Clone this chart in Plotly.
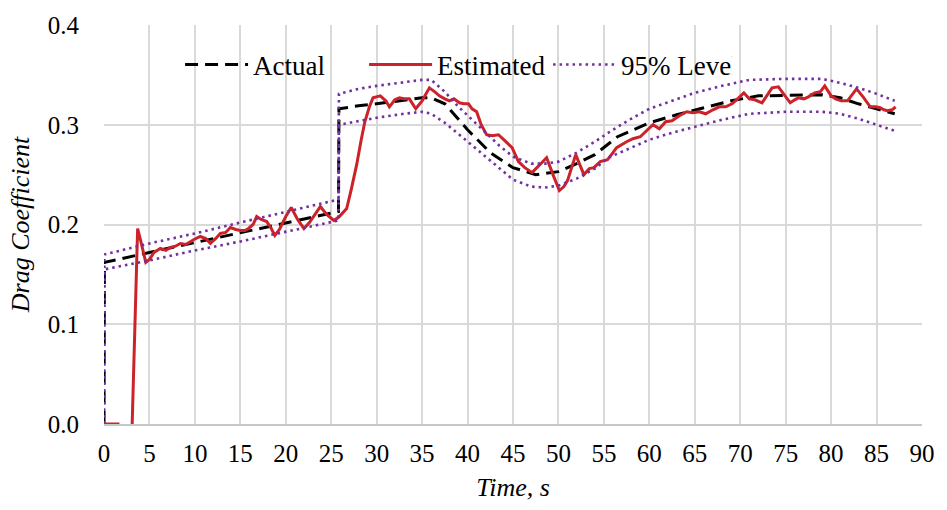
import plotly.graph_objects as go

# ---- data ----
t_actual = [0, 0.05, 5, 10, 15, 20, 25.8, 25.85, 28, 30, 33, 35, 36, 37.5, 40, 42.5,
            45, 47.5, 50, 52, 54, 56.5, 60, 63, 66, 69, 72, 76, 79, 81, 83, 85, 87]
cd_actual = [0, 0.162, 0.172, 0.182, 0.192, 0.202, 0.213, 0.316, 0.319, 0.321, 0.325,
             0.327, 0.327, 0.321, 0.295, 0.272, 0.257, 0.250, 0.253, 0.261, 0.270,
             0.288, 0.302, 0.310, 0.317, 0.324, 0.329, 0.330, 0.330, 0.327, 0.321,
             0.316, 0.311]

t_upper = [0, 0.05, 5, 10, 15, 20, 25.8, 25.85, 28, 30, 33, 35, 36, 37.5, 39, 40.5, 42,
           43.5, 45, 47, 48.5, 50, 52, 54, 56, 58, 60, 62.5, 65, 68, 71, 75, 79, 81,
           83, 85, 87]
cd_upper = [0, 0.170, 0.181, 0.191, 0.202, 0.213, 0.225, 0.331, 0.336, 0.339, 0.343,
            0.345, 0.345, 0.333, 0.318, 0.305, 0.291, 0.279, 0.268, 0.261, 0.261,
            0.263, 0.272, 0.283, 0.295, 0.306, 0.316, 0.324, 0.332, 0.339, 0.345,
            0.346, 0.346, 0.342, 0.337, 0.331, 0.324]

t_lower = [0, 0.05, 5, 10, 15, 20, 25.8, 25.85, 28, 30, 33, 35, 36, 37.5, 39.5, 41.5,
           43.5, 45, 47, 48.5, 50, 52, 54, 55.5, 58, 60, 62.5, 65, 68, 71, 75, 79, 81,
           83, 85, 87]
cd_lower = [0, 0.155, 0.164, 0.174, 0.183, 0.193, 0.204, 0.300, 0.304, 0.307, 0.311,
            0.313, 0.311, 0.302, 0.287, 0.272, 0.257, 0.245, 0.238, 0.237, 0.239,
            0.246, 0.256, 0.267, 0.277, 0.285, 0.292, 0.298, 0.305, 0.311, 0.313,
            0.313, 0.311, 0.306, 0.300, 0.294]

t_est = [0, 1.7, None, 3.1, 3.7, 4.0, 4.6, 5.0, 5.5, 6.2, 6.8, 7.3, 7.8, 8.4, 9.0, 9.9,
         10.6, 11.2, 11.7, 12.3, 12.8, 13.4, 13.9, 14.5, 15.0, 15.5, 15.9, 16.4, 16.8,
         17.3, 17.9, 18.4, 18.8, 19.3, 20.0, 20.6, 21.3, 22.0, 22.6, 23.2, 23.8, 24.5,
         25.3, 25.9, 26.7, 27.2, 27.8, 28.3, 28.7, 29.2, 29.6, 30.4, 31.0, 31.4, 32.0,
         32.5, 33.0, 33.6, 34.3, 35.0, 35.8, 36.4, 36.9, 37.5, 38.0, 38.5, 39.1, 39.6,
         40.1, 40.5, 41.0, 41.5, 42.1, 42.7, 43.4, 44.1, 44.9, 45.6, 46.3, 47.1, 47.8,
         48.7, 49.4, 50.1, 50.6, 51.0, 51.9, 52.4, 52.8, 53.4, 53.9, 54.6, 55.4, 56.0,
         56.4, 57.5, 58.2, 59.0, 59.6, 60.4, 61.1, 61.8, 62.5, 63.3, 64.1, 64.8, 65.5,
         66.2, 67.0, 67.7, 68.4, 69.1, 69.6, 70.4, 71.0, 71.6, 72.4, 73.0, 73.5, 74.2,
         74.8, 75.5, 76.0, 76.4, 77.0, 77.5, 78.2, 78.8, 79.3, 80.0, 80.5, 81.1, 81.8,
         82.3, 82.8, 83.6, 84.3, 84.9, 85.4, 85.8, 86.2, 86.7, 87.1]
cd_est = [0, 0, None, 0, 0.196, 0.185, 0.162, 0.165, 0.172, 0.176, 0.174, 0.177, 0.178,
          0.181, 0.180, 0.185, 0.188, 0.186, 0.181, 0.186, 0.191, 0.192, 0.197, 0.195,
          0.194, 0.194, 0.196, 0.200, 0.208, 0.205, 0.203, 0.196, 0.189, 0.195, 0.208,
          0.217, 0.205, 0.196, 0.202, 0.210, 0.218, 0.210, 0.204, 0.208, 0.216, 0.235,
          0.260, 0.285, 0.303, 0.318, 0.327, 0.329, 0.324, 0.318, 0.325, 0.327, 0.326,
          0.326, 0.316, 0.324, 0.337, 0.333, 0.329, 0.326, 0.324, 0.326, 0.322, 0.321,
          0.321, 0.316, 0.313, 0.300, 0.290, 0.289, 0.290, 0.284, 0.277, 0.263, 0.257,
          0.252, 0.259, 0.267, 0.250, 0.234, 0.238, 0.244, 0.270, 0.258, 0.250, 0.256,
          0.257, 0.263, 0.265, 0.272, 0.277, 0.283, 0.286, 0.288, 0.293, 0.300, 0.296,
          0.303, 0.304, 0.309, 0.313, 0.312, 0.313, 0.311, 0.315, 0.318, 0.318, 0.321,
          0.325, 0.332, 0.326, 0.325, 0.322, 0.330, 0.337, 0.338, 0.331, 0.322, 0.325,
          0.327, 0.326, 0.328, 0.332, 0.333, 0.339, 0.329, 0.326, 0.324, 0.324, 0.330,
          0.336, 0.327, 0.318, 0.318, 0.317, 0.315, 0.314, 0.315, 0.318]

x_ticks = list(range(0, 91, 5))
y_ticks = [0.0, 0.1, 0.2, 0.3, 0.4]

FONT = "Liberation Serif"
PURPLE = "#7030A0"
RED = "#CC2229"

fig = go.Figure()
fig.add_trace(go.Scatter(x=t_actual, y=cd_actual, mode="lines", name="Actual",
                         line=dict(color="black", width=3, dash="13px,7px")))
fig.add_trace(go.Scatter(x=t_est, y=cd_est, mode="lines", name="Estimated",
                         connectgaps=False,
                         line=dict(color=RED, width=3)))
fig.add_trace(go.Scatter(x=t_upper, y=cd_upper, mode="lines", name="95% Level",
                         legendgroup="lvl",
                         line=dict(color=PURPLE, width=2.6, dash="2.5px,4px")))
fig.add_trace(go.Scatter(x=t_lower, y=cd_lower, mode="lines", name="95% Level",
                         legendgroup="lvl", showlegend=False,
                         line=dict(color=PURPLE, width=2.6, dash="2.5px,4px")))

fig.update_layout(
    width=947, height=510,
    margin=dict(l=104, r=15, t=18, b=86),
    paper_bgcolor="white", plot_bgcolor="white",
    font=dict(family=FONT, color="black", size=25),
    legend=dict(orientation="h", x=0.093, y=0.9, xanchor="left", yanchor="middle",
                bgcolor="rgba(0,0,0,0)", font=dict(size=27, family=FONT),
                traceorder="normal", itemwidth=63,
                entrywidth=106, entrywidthmode="pixels"),
    showlegend=True,
)
fig.update_xaxes(range=[0, 90], tickvals=x_ticks, ticktext=[str(v) for v in x_ticks],
                 showgrid=True, gridcolor="#D9D9D9", gridwidth=1.5,
                 showline=True, linecolor="#C8C8C8", linewidth=1.5, mirror=False,
                 zeroline=False, ticks="", ticklabelstandoff=6,
                 tickfont=dict(size=25, family=FONT),
                 title=dict(text="<i>Time, s</i>", font=dict(size=26, family=FONT),
                            standoff=12))
fig.update_yaxes(range=[0, 0.4], tickvals=y_ticks, ticktext=[f"{v:.1f}" for v in y_ticks],
                 showgrid=True, gridcolor="#D9D9D9", gridwidth=1.5,
                 showline=False, zeroline=False, ticks="", ticklabelstandoff=24,
                 tickfont=dict(size=25, family=FONT),
                 title=dict(text="<i>Drag Coefficient</i>", font=dict(size=26, family=FONT),
                            standoff=10))

fig.write_html("out.html")
